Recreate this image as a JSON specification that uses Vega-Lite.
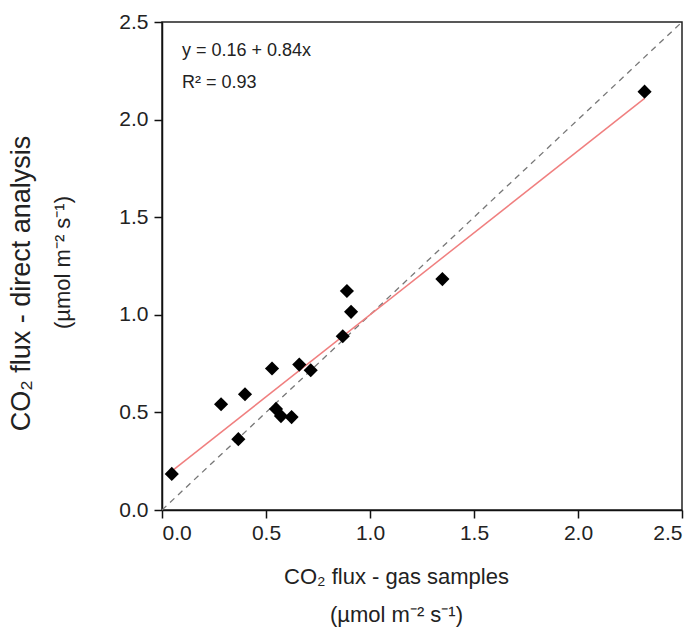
{
  "$schema": "https://vega.github.io/schema/vega-lite/v6.json",
  "width": 520,
  "height": 488,
  "autosize": "none",
  "padding": {"left": 162, "top": 22, "right": 16, "bottom": 119},
  "background": "white",
  "config": {
    "font": "Liberation Sans",
    "view": {"stroke": "#222", "strokeWidth": 1.5},
    "axis": {
      "grid": false,
      "domainColor": "#111",
      "domainWidth": 1.5,
      "tickColor": "#111",
      "tickWidth": 1.5,
      "tickSize": 8,
      "labelFont": "Liberation Sans",
      "labelFontSize": 21,
      "labelColor": "#222",
      "titleFont": "Liberation Sans",
      "titleFontWeight": "normal",
      "titleColor": "#222"
    }
  },
  "resolve": {"axis": {"y": "independent"}},
  "layer": [
    {
      "data": {"values": [{"x": 0, "y": 0}, {"x": 2.5, "y": 2.5}]},
      "mark": {"type": "line", "color": "#777", "strokeWidth": 1.3, "strokeDash": [6, 5]},
      "encoding": {
        "x": {"field": "x", "type": "quantitative", "scale": {"domain": [0, 2.5], "nice": false},
              "axis": {"values": [0, 0.5, 1, 1.5, 2, 2.5], "format": ".1f", "labelPadding": 4,
                       "title": ["CO₂ flux - gas samples", "(µmol m⁻² s⁻¹)"], "titlePadding": 23,
                       "titleX": 234, "titleFontSize": 22, "titleLineHeight": 38}},
        "y": {"field": "y", "type": "quantitative", "scale": {"domain": [0, 2.5], "nice": false},
              "axis": {"orient": "left", "values": [0, 0.5, 1, 1.5, 2, 2.5], "format": ".1f", "labelPadding": 6,
                       "title": "CO₂ flux - direct analysis", "titlePadding": 83, "titleY": 261,
                       "titleFontSize": 27}}
      }
    },
    {
      "data": {"values": [{"x": 0.047, "y": 0.199}, {"x": 2.32, "y": 2.109}]},
      "mark": {"type": "line", "color": "#f07f7f", "strokeWidth": 1.5},
      "encoding": {
        "x": {"field": "x", "type": "quantitative"},
        "y": {"field": "y", "type": "quantitative",
              "axis": {"orient": "left", "labels": false, "ticks": false, "domain": false,
                       "title": "(µmol m⁻² s⁻¹)", "titlePadding": 88, "titleY": 240,
                       "titleFontSize": 22}}
      }
    },
    {
      "data": {"values": [
        {"x": 0.047, "y": 0.185},
        {"x": 0.284, "y": 0.542},
        {"x": 0.399, "y": 0.593},
        {"x": 0.367, "y": 0.363},
        {"x": 0.529, "y": 0.725},
        {"x": 0.548, "y": 0.518},
        {"x": 0.572, "y": 0.481},
        {"x": 0.623, "y": 0.476},
        {"x": 0.66, "y": 0.745},
        {"x": 0.715, "y": 0.716},
        {"x": 0.869, "y": 0.89},
        {"x": 0.889, "y": 1.122},
        {"x": 0.909, "y": 1.015},
        {"x": 1.348, "y": 1.183},
        {"x": 2.32, "y": 2.143}
      ]},
      "mark": {"type": "point", "shape": "diamond", "filled": true, "color": "#000", "size": 200, "opacity": 1},
      "encoding": {
        "x": {"field": "x", "type": "quantitative"},
        "y": {"field": "y", "type": "quantitative", "axis": null}
      }
    },
    {
      "data": {"values": [{"label": "y = 0.16 + 0.84x", "x": 0.096, "y": 2.35}, {"label": "R² = 0.93", "x": 0.096, "y": 2.187}]},
      "mark": {"type": "text", "align": "left", "baseline": "middle", "fontSize": 18, "color": "#222", "font": "Liberation Sans"},
      "encoding": {
        "x": {"field": "x", "type": "quantitative"},
        "y": {"field": "y", "type": "quantitative", "axis": null},
        "text": {"field": "label"}
      }
    }
  ]
}
